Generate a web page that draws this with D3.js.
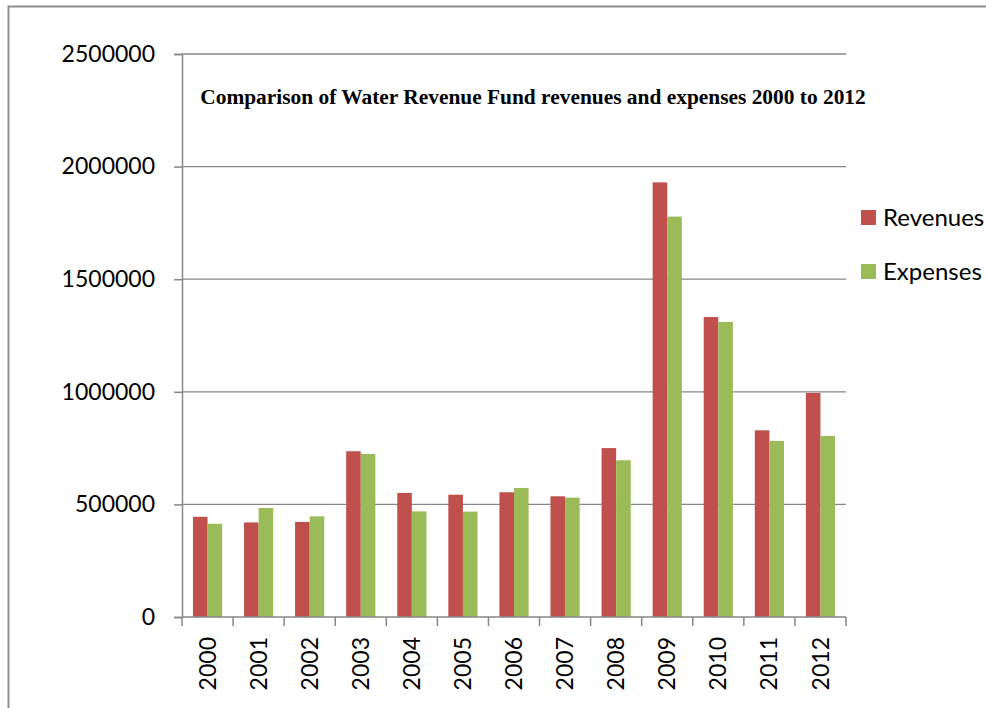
<!DOCTYPE html>
<html>
<head>
<meta charset="utf-8">
<script src="https://cdn.jsdelivr.net/npm/d3@7"></script>
<style>
  html, body { margin: 0; padding: 0; background: #ffffff; }
  svg { display: block; }
</style>
</head>
<body>
<svg id="chart" width="986" height="708"></svg>
<script>
// Water Revenue Fund: yearly revenues and expenses
const years = ["2000","2001","2002","2003","2004","2005","2006","2007","2008","2009","2010","2011","2012"];
const revenues = [445000, 420000, 422000, 736000, 551000, 543000, 554000, 536000, 750000, 1930000, 1332000, 829000, 995000];
const expenses = [414000, 484000, 447000, 724000, 469000, 468000, 573000, 530000, 696000, 1778000, 1310000, 782000, 804000];
const seriesNames = ["Revenues", "Expenses"];
const seriesColors = ["#C0504D", "#9BBB59"];
const yTicks = [0, 500000, 1000000, 1500000, 2000000, 2500000];
const chartTitle = "Comparison of Water Revenue Fund revenues and expenses 2000 to 2012";

const svg = d3.select("#chart");
const plot = { left: 182, right: 846, top: 54, bottom: 617 };
const labelFont = "Lato, 'Open Sans', sans-serif";

// outer frame
svg.append("rect")
  .attr("x", 8.5).attr("y", 6.5)
  .attr("width", 1000).attr("height", 1000)
  .attr("fill", "none").attr("stroke", "#8f8f8f").attr("stroke-width", 2);

const x = d3.scaleBand().domain(years).range([plot.left, plot.right]).padding(0);
const xs = d3.scaleBand().domain(seriesNames).range([0, x.bandwidth()]).paddingInner(0).paddingOuter(0.75);
const y = d3.scaleLinear().domain([0, 2500000]).range([plot.bottom, plot.top]);

// horizontal gridlines
svg.append("g").selectAll("line")
  .data(yTicks.filter(d => d > 0))
  .join("line")
  .attr("x1", plot.left).attr("x2", plot.right)
  .attr("y1", d => y(d)).attr("y2", d => y(d))
  .attr("stroke", "#878787").attr("stroke-width", 1.3);

// bars
const rows = years.map((yr, i) => ({ year: yr, values: [revenues[i], expenses[i]] }));
const groups = svg.append("g").selectAll("g")
  .data(rows).join("g")
  .attr("transform", d => `translate(${x(d.year)},0)`);
groups.selectAll("rect")
  .data(d => d.values.map((v, k) => ({ name: seriesNames[k], value: v, color: seriesColors[k] })))
  .join("rect")
  .attr("x", d => xs(d.name))
  .attr("width", xs.bandwidth())
  .attr("y", d => y(d.value))
  .attr("height", d => y(0) - y(d.value))
  .attr("fill", d => d.color);

// y axis
const yAxis = d3.axisLeft(y).tickValues(yTicks).tickFormat(d3.format("d")).tickSize(8).tickPadding(19);
const gy = svg.append("g").attr("transform", `translate(${plot.left},0)`).call(yAxis);
gy.select(".domain").attr("stroke", "#878787").attr("stroke-width", 1.5);
gy.selectAll(".tick line").attr("stroke", "#878787").attr("stroke-width", 1.5);
gy.selectAll(".tick text").attr("font-family", labelFont).attr("font-size", 23).attr("fill", "#000");

// x axis with ticks at category boundaries
const gx = svg.append("g").attr("transform", `translate(0,${plot.bottom})`);
gx.append("line").attr("x1", plot.left).attr("x2", plot.right)
  .attr("stroke", "#878787").attr("stroke-width", 1.5);
const bounds = years.map(d => x(d)).concat([plot.right]);
gx.selectAll("line.tk").data(bounds).join("line").attr("class", "tk")
  .attr("x1", d => d).attr("x2", d => d).attr("y1", 0).attr("y2", 9)
  .attr("stroke", "#878787").attr("stroke-width", 1.5);
gx.selectAll("text").data(years).join("text")
  .attr("transform", d => `translate(${x(d) + x.bandwidth() / 2},20) rotate(-90)`)
  .attr("text-anchor", "end").attr("dy", "0.35em")
  .attr("font-family", labelFont).attr("font-size", 23).attr("fill", "#000")
  .text(d => d);

// title
svg.append("text")
  .attr("x", 533).attr("y", 104)
  .attr("text-anchor", "middle")
  .attr("font-family", "'Liberation Serif', 'Times New Roman', serif")
  .attr("font-weight", "bold").attr("font-size", 21.4)
  .attr("fill", "#000")
  .text(chartTitle);

// legend
const legend = svg.append("g").attr("transform", "translate(861,210)");
const li = legend.selectAll("g").data(seriesNames).join("g")
  .attr("transform", (d, i) => `translate(0,${i * 54})`);
li.append("rect").attr("width", 15).attr("height", 15).attr("fill", (d, i) => seriesColors[i]);
li.append("text").attr("x", 22).attr("y", 7.5).attr("dy", "0.35em")
  .attr("font-family", labelFont).attr("font-size", 24).attr("fill", "#000")
  .text(d => d);
</script>
</body>
</html>
